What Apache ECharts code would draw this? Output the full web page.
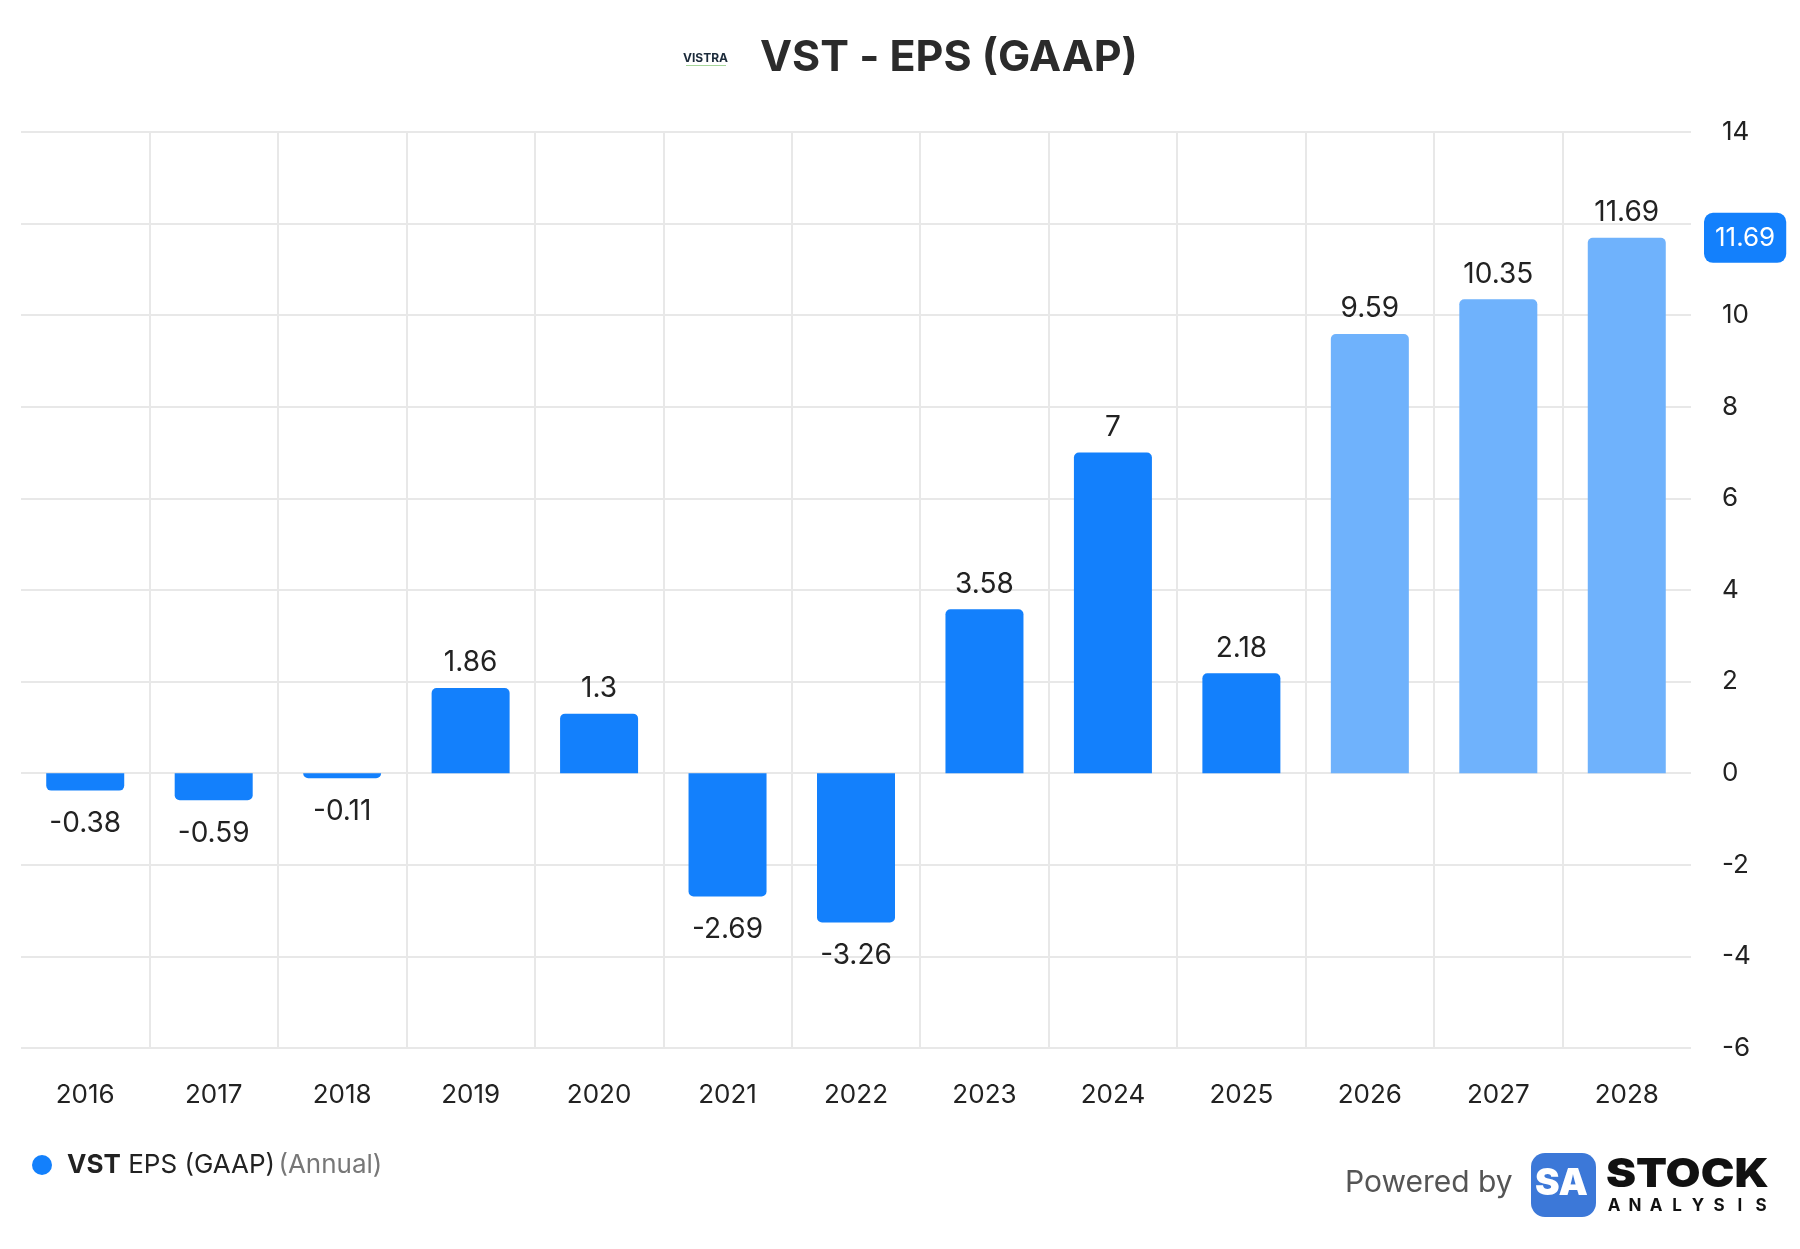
<!DOCTYPE html>
<html>
<head>
<meta charset="utf-8">
<title>VST - EPS (GAAP)</title>
<script src="https://cdn.jsdelivr.net/npm/echarts@6/dist/echarts.min.js"></script>
<style>
  html, body { margin: 0; padding: 0; background: #ffffff; }
  #chart { width: 1800px; height: 1249px; }
</style>
</head>
<body>
<div id="chart"></div>
<script>
// values
var years = ['2016', '2017', '2018', '2019', '2020', '2021', '2022', '2023', '2024', '2025', '2026', '2027', '2028'];
var eps = [-0.38, -0.59, -0.11, 1.86, 1.3, -2.69, -3.26, 3.58, 7, 2.18, 9.59, 10.35, 11.69];
var firstForecastYear = '2026';
var lastValue = 11.69;

var FONT = 'Inter, "Noto Sans", sans-serif';
var solidBlue = '#1380fc';
var lightBlue = '#6fb2fc';

var chart = echarts.init(document.getElementById('chart'));

function buildBarData() {
    let data = [];
    for (let i = 0; i < years.length; i++) {
        let v = eps[i];
        let forecast = Number(years[i]) >= Number(firstForecastYear);
        data.push({
            value: v,
            itemStyle: {
                color: forecast ? lightBlue : solidBlue,
                borderRadius: v >= 0 ? [5, 5, 0, 0] : [0, 0, 5, 5]
            },
            label: {
                position: v >= 0 ? 'top' : 'bottom',
                distance: v >= 0 ? 11 : 19
            }
        });
    }
    return data;
}

// letters of the footer wordmark, spaced out like the logo
function buildAnalysisLetters() {
    let word = 'ANALYSIS';
    let items = [];
    for (let i = 0; i < word.length; i++) {
        items.push({
            type: 'text',
            x: 1614 + i * 21,
            y: 1197,
            style: {
                text: word[i],
                fontFamily: FONT,
                fontSize: 17,
                fontWeight: 'bold',
                fill: '#111111',
                align: 'center'
            }
        });
    }
    return items;
}

var option = {
    backgroundColor: '#ffffff',
    animation: false,
    textStyle: { fontFamily: FONT },
    title: {
        text: 'VST - EPS (GAAP)',
        left: 755,
        top: 32,
        textStyle: {
            fontFamily: FONT,
            fontSize: 43,
            fontWeight: 'bold',
            color: '#2b2b2b'
        }
    },
    legend: {
        left: 27,
        top: 1147,
        icon: 'circle',
        itemWidth: 20,
        itemHeight: 20,
        data: ['VST EPS (GAAP)'],
        formatter: function() {
            return '{b|VST} {n|EPS (GAAP)} {g|(Annual)}';
        },
        textStyle: {
            padding: [0, 0, 0, 10],
            rich: {
                b: { fontFamily: FONT, fontSize: 26, fontWeight: 'bold', color: '#222', padding: [0, 4, 0, 0] },
                n: { fontFamily: FONT, fontSize: 26, color: '#222' },
                g: { fontFamily: FONT, fontSize: 26, color: '#777' }
            }
        }
    },
    grid: {
        left: 21,
        right: 109,
        top: 132,
        bottom: 201,
        containLabel: false
    },
    xAxis: {
        type: 'category',
        data: years,
        boundaryGap: true,
        axisLine: { show: false },
        axisTick: { show: false },
        axisLabel: {
            margin: 34,
            fontFamily: FONT,
            fontSize: 26,
            color: '#222'
        },
        splitLine: {
            show: true,
            showMinLine: false,
            showMaxLine: false,
            lineStyle: { color: '#e8e8e8', width: 2 }
        }
    },
    yAxis: {
        type: 'value',
        position: 'right',
        min: -6,
        max: 14,
        interval: 2,
        axisLine: { show: false },
        axisTick: { show: false },
        axisLabel: {
            margin: 31,
            fontFamily: FONT,
            fontSize: 26,
            color: '#222',
            // the tick under the last-value badge is hidden by it
            formatter: function(v) {
                return Math.abs(v - lastValue) < 1 ? '' : String(v);
            }
        },
        splitLine: {
            lineStyle: { color: '#e8e8e8', width: 2 }
        }
    },
    series: [{
        name: 'VST EPS (GAAP)',
        type: 'bar',
        barWidth: 78,
        itemStyle: { color: solidBlue },
        label: {
            show: true,
            fontFamily: FONT,
            fontSize: 28,
            color: '#222'
        },
        data: buildBarData(),
        markLine: {
            silent: true,
            symbol: 'none',
            lineStyle: { color: 'rgba(0,0,0,0)', width: 0, type: 'solid' },
            data: [{ yAxis: lastValue }],
            label: {
                show: true,
                position: 'end',
                distance: 13,
                formatter: '{c}',
                fontFamily: FONT,
                fontSize: 26,
                color: '#ffffff',
                backgroundColor: solidBlue,
                borderRadius: 9,
                padding: [12, 11, 12, 11]
            }
        }
    }],
    graphic: [
        // small Vistra logo next to the title
        {
            type: 'text',
            left: 683,
            top: 52,
            style: {
                text: 'VISTRA',
                fontFamily: FONT,
                fontSize: 12,
                fontWeight: 'bold',
                fill: '#1b2a3a'
            }
        },
        {
            type: 'rect',
            left: 686,
            top: 65,
            shape: { width: 40, height: 1 },
            style: { fill: '#a6d59a' }
        },
        // Powered by Stock Analysis footer
        {
            type: 'text',
            left: 1345,
            top: 1168,
            style: {
                text: 'Powered by',
                fontFamily: FONT,
                fontSize: 30,
                fill: '#555555'
            }
        },
        {
            type: 'rect',
            left: 1531,
            top: 1153,
            shape: { width: 65, height: 64, r: 14 },
            style: { fill: '#3c78d8' }
        },
        {
            type: 'text',
            left: 1535,
            top: 1165,
            style: {
                text: 'SA',
                fontFamily: FONT,
                fontSize: 37,
                fontWeight: 900,
                fill: '#ffffff'
            }
        },
        {
            type: 'text',
            x: 1606,
            y: 1155,
            scaleX: 1.13,
            style: {
                text: 'STOCK',
                fontFamily: FONT,
                fontSize: 40,
                fontWeight: 900,
                fill: '#111111'
            }
        }
    ].concat(buildAnalysisLetters())
};

chart.setOption(option);
</script>
</body>
</html>
